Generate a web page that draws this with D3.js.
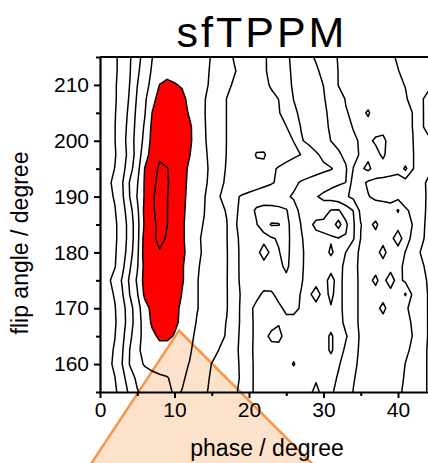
<!DOCTYPE html>
<html>
<head>
<meta charset="utf-8">
<script src="https://cdn.jsdelivr.net/npm/d3@7"></script>
<style>
  html, body { margin: 0; padding: 0; background: #fff; }
  svg { display: block; font-family: "Liberation Sans", Arial, sans-serif; }
</style>
</head>
<body>
<svg id="chart" width="428" height="463"></svg>
<script>
// grid columns (phase, degree) and rows (flip angle, degree, top row first)
const phases = [0,1,2,3,4,5,6,7,8,9,10,11,12,13,14,15,16,17,18,19,20,21,22,23,24,25,26,27,28,29,30,31,32,33,34,35,36,37,38,39,40,41,42,43,44,45,46];
const flips = [215,212.5,210,207.5,205,202.5,200,197.5,195,192.5,190,187.5,185,182.5,180,177.5,175,172.5,170,167.5,165,162.5,160,157.5,155];

// contour levels, region >= redLevel is filled
const levels = [1,2,3,4,5,6,7,8,9,10];
const redLevel = 9;

const xMajor = [0,10,20,30,40];
const xMinor = [5,15,25,35,45];
const yMajor = [160,170,180,190,200,210];
const yMinor = [155,165,175,185,195,205,215];

// callout triangle corners, in phase / flip units
const callout = [[10.6,166],[-2.6,139.3],[30.6,139.3]];

// signal, one row per flip angle
const grid = [
  [4.2,4.5,4.85,5.35,5.9,6.65,7.4,7.98,8.35,8.55,8.6,8.55,8.45,8.35,8.2,7.95,7.6,7.25,6.95,6.7,6.5,6.3,6.1,5.8,5.45,5.15,4.8,4.5,4.2,3.9,3.55,3.25,2.95,2.85,2.7,2.6,2.45,2.35,2.2,2.1,1.93,1.76,1.59,1.42,1.25,1.08,0.9],
  [4.15,4.5,4.85,5.35,5.94,6.82,7.5,8.1,8.45,8.7,8.75,8.7,8.55,8.4,8.2,7.89,7.61,7.33,7.06,6.81,6.57,6.33,6.1,5.81,5.48,5.16,4.88,4.63,4.38,4.13,3.78,3.35,2.98,2.86,2.74,2.62,2.5,2.38,2.26,2.14,2.02,1.85,1.66,1.47,1.28,1.09,0.9],
  [4.2,4.55,4.9,5.41,6.02,6.98,7.63,8.29,9.02,9.2,9.05,8.93,8.7,8.45,8.2,7.81,7.48,7.16,6.91,6.72,6.53,6.34,6.15,5.93,5.57,5.21,4.91,4.68,4.45,4.23,3.99,3.5,2.98,2.89,2.78,2.66,2.55,2.44,2.33,2.21,2.1,1.98,1.76,1.54,1.33,1.11,0.9],
  [4.2,4.55,4.9,5.44,6.11,7.13,7.8,8.78,9.25,9.45,9.45,9.2,8.8,8.5,8.05,7.71,7.36,6.99,6.86,6.71,6.57,6.43,6.29,6.14,5.99,5.47,4.98,4.75,4.52,4.3,4.07,3.7,3.26,2.96,2.84,2.73,2.62,2.51,2.4,2.29,2.18,2.07,1.78,1.22,0.67,0.6,0.6],
  [4.25,4.6,4.95,5.5,6.25,7.27,7.93,9.01,9.4,9.6,9.55,9.35,8.91,8.55,8.04,7.68,7.32,6.99,6.85,6.72,6.59,6.45,6.32,6.19,6.05,5.68,5.16,4.84,4.6,4.37,4.14,3.84,3.44,3.04,2.9,2.79,3.1,2.57,2.46,2.34,2.22,2.11,1.99,1.29,0.6,0.55,0.55],
  [4.3,4.65,4.98,5.56,6.38,7.36,8.11,9.2,9.5,9.7,9.65,9.5,9.15,8.6,8.06,7.7,7.33,6.99,6.87,6.75,6.63,6.51,6.39,6.27,6.14,6.02,5.5,4.95,4.69,4.44,4.18,3.9,3.57,3.23,2.96,2.84,2.72,2.6,2.48,2.36,2.24,2.12,1.99,1.29,0.6,0.55,0.55],
  [4.3,4.65,4.98,5.6,6.5,7.43,8.25,9.3,9.6,9.75,9.7,9.55,9.25,8.42,8.08,7.73,7.35,6.99,6.88,6.77,6.66,6.55,6.44,6.33,6.22,6.11,5.99,5.09,4.77,4.51,4.26,3.99,3.71,3.41,3.12,2.92,2.79,3.15,3.35,2.4,2.27,2.14,2.01,1.69,1.34,0.99,0.8],
  [4.25,4.6,4.93,5.53,6.38,7.45,8.57,9.4,9.85,9.85,9.8,9.6,9.05,8.55,8.15,7.75,7.33,6.98,6.88,6.78,6.69,5.9,5.9,6.39,6.29,6.2,6.1,5.99,5.57,5.13,4.78,4.47,4.16,3.74,3.21,2.92,2.8,2.67,3.2,2.41,2.28,2.15,2.03,1.71,1.36,0.99,0.8],
  [4.3,4.65,5.02,5.67,6.63,7.64,9.02,9.6,10.15,10.02,9.8,9.4,8.83,8.5,8.24,7.76,7.29,6.94,6.8,6.66,6.51,6.37,6.23,6.09,5.95,5.82,5.7,5.57,5.44,5.32,5.19,5.06,4.71,4.12,2.98,2.86,3.2,2.62,2.5,2.38,2.27,3.2,2.03,1.68,1.23,0.9,0.7],
  [4.4,4.8,5.21,5.93,7.08,7.92,9.1,9.7,10.3,10.05,9.8,9.45,8.7,8.45,8.2,7.68,7.16,6.9,6.77,6.63,6.49,6.36,6.22,6.08,5.86,5.52,5.17,4.92,4.77,4.62,4.46,4.31,4.15,3.99,2.58,2.28,1.85,1.75,1.7,1.65,1.6,1.55,1.5,1.25,0.89,0.75,0.6],
  [4.35,4.75,5.08,5.85,7.02,8.05,9.1,9.85,10.4,10.02,9.75,9.4,8.6,8.3,8.05,7.58,7.05,6.61,6.17,5.92,5.78,5.64,5.51,5.37,5.23,5.1,4.91,4.63,4.34,4.06,3.81,3.58,3.35,3.12,2.78,2.35,2.05,1.8,1.75,1.7,1.7,1.65,1.55,1.3,0.9,0.75,0.6],
  [4.3,4.65,4.95,5.62,6.63,7.78,9.25,9.85,10.35,10.02,9.75,9.35,8.48,8.3,8.01,7.68,7.32,6.92,6.15,5.85,5.75,6.1,6.3,6.35,6.3,6.1,5.3,4.8,4.7,4.55,4.5,5.05,5.1,4.5,3.98,2.76,2.65,2.55,2.45,2.35,3.1,2.1,1.85,1.45,0.81,0.7,0.6],
  [4.2,4.55,4.85,5.46,6.43,7.67,9.15,9.7,10.3,10.02,9.7,9.35,8.18,8.08,7.98,7.69,7.38,7.06,6.11,5.8,5.7,5.95,6.5,7.08,7.05,6.4,5.4,4.98,4.75,5.2,5.3,5.4,6.4,5.2,4.15,3.02,2.8,3.15,2.6,2.5,2.4,2.2,1.98,1.45,0.7,0.6,0.55],
  [4.2,4.55,4.85,5.46,6.43,7.67,9.4,9.75,10.3,9.9,9.65,9.35,8.18,8.1,7.9,7.6,7.32,7.05,6.2,5.85,5.75,5.7,5.65,5.9,6.1,6.4,5.5,5.05,4.8,4.7,4.8,4.9,4.95,4.9,4.1,2.98,2.85,2.75,2.65,2.55,3.8,2.25,1.85,1.35,0.65,0.6,0.55],
  [4.25,4.6,4.9,5.54,6.57,7.78,9.45,9.8,9.9,9.8,9.6,9.3,8.55,8.15,7.9,7.65,7.35,7.08,6.27,5.85,5.7,5.65,6.5,5.75,5.95,6.35,5.5,5.15,4.7,4.6,4.6,5.15,4.6,3.98,3.3,2.85,2.75,2.65,3.35,2.45,2.3,1.98,1.65,0.98,0.75,0.7,0.6],
  [4.35,4.7,4.95,5.75,6.88,7.9,9.3,9.7,9.8,9.75,9.55,9.1,8.6,8.1,7.8,7.6,7.35,7.08,6.27,5.85,5.7,5.65,5.6,5.55,5.7,6.25,5.45,5.15,4.65,4.55,4.5,4.5,4.4,3.7,3.2,2.85,2.75,2.65,2.55,2.4,2.2,1.85,1.6,1.3,0.7,0.65,0.6],
  [4.5,4.8,5.31,6.11,7.18,8.14,9.35,9.6,9.7,9.65,9.5,9.05,8.8,8.05,7.75,7.55,7.3,7.06,6.3,5.85,5.7,5.65,5.6,5.55,5.5,5.7,5.4,5.1,4.6,4.5,4.45,5.5,4.4,3.6,3.25,2.85,2.75,3.2,2.55,3.8,2.3,1.8,1.55,1.25,0.95,0.75,0.65],
  [4.4,4.7,5.08,5.92,7.02,7.91,9.2,9.5,9.6,9.55,9.4,8.98,8.6,8.05,7.75,7.55,7.3,7.06,6.42,5.9,5.75,5.3,4.8,4.85,5.3,5.45,5.3,4.95,4.7,5.6,4.5,5.3,4.4,3.6,3.25,2.85,2.75,2.65,2.55,2.4,2.3,3.1,1.8,1.3,0.99,0.8,0.7],
  [4.3,4.65,4.95,5.62,6.63,7.58,8.63,9.25,9.45,9.5,9.3,8.8,8.5,8.05,7.75,7.55,7.3,7.06,6.42,5.85,5.3,4.7,4.6,4.6,4.8,5.2,5.25,4.9,4.7,4.5,4.6,4.9,4.4,3.6,3.25,2.85,2.75,2.65,3.3,2.45,2.3,2.1,1.8,1.3,0.99,0.8,0.7],
  [4.25,4.6,4.9,5.58,6.56,7.55,8.42,9.15,9.35,9.4,9.15,8.85,8.4,7.95,7.7,7.5,7.25,6.97,6.4,5.85,5.3,4.75,4.7,4.75,4.95,4.75,4.7,4.65,4.6,4.55,4.55,4.6,4.45,3.7,3.25,2.85,2.75,2.65,2.55,2.45,2.35,2.25,1.9,1.35,0.99,0.8,0.7],
  [4.35,4.7,4.98,5.75,6.78,7.67,8.3,8.8,9.15,9.15,8.95,8.6,8.2,7.85,7.6,7.4,7.15,6.95,6.35,5.8,5.3,4.75,4.8,5.15,5.15,4.8,4.75,4.7,4.65,4.6,4.6,5.15,4.5,4.1,3.5,2.85,2.75,2.65,2.55,2.45,2.35,2.2,1.98,1.4,0.99,0.8,0.7],
  [4.4,4.75,5.08,5.92,7.02,7.85,8.25,8.55,8.7,8.7,8.55,8.35,8.1,7.75,7.5,7.25,6.98,6.7,6.3,5.75,5.25,4.75,4.7,4.75,4.8,4.75,4.75,4.7,4.65,4.6,4.6,5.15,4.5,3.8,3.3,2.85,2.75,2.65,2.55,2.45,2.35,2.15,1.85,1.35,0.95,0.8,0.7],
  [4.45,4.75,5.17,6.02,7.06,7.65,8.1,8.3,8.4,8.4,8.3,8.15,7.98,7.6,7.3,6.98,6.75,6.55,6.45,5.75,5.25,4.8,4.75,4.7,4.7,4.75,5.05,4.7,4.65,4.6,4.55,4.55,4.1,3.6,3.15,2.85,2.75,2.65,2.55,2.45,2.35,1.98,1.65,1.3,0.95,0.8,0.7],
  [4.35,4.7,4.98,5.69,6.55,7.2,7.5,7.7,7.85,7.95,8.2,8.1,7.85,7.55,7.2,6.9,6.75,6.6,6.45,5.8,5.25,4.8,4.75,4.7,4.7,4.65,4.65,4.6,4.6,4.8,4.5,4.3,3.9,3.45,3.05,2.8,2.7,2.6,2.5,2.35,2.15,1.95,1.6,1.3,0.95,0.8,0.7],
  [4.2,4.5,4.85,5.46,6.21,6.93,7.3,7.5,7.65,7.8,8.1,7.98,7.7,7.45,7.15,6.8,6.65,6.5,6.2,5.75,5.25,4.8,4.75,4.7,4.7,4.65,4.65,4.6,4.6,5.4,4.5,4.1,3.8,3.4,2.98,2.8,2.7,2.6,2.5,2.35,2.1,1.9,1.6,1.3,0.95,0.8,0.7]
];

const svg = d3.select("#chart");

const plotLeft = 100, plotTop = 57, plotBottom = 392;
const x = d3.scaleLinear().domain([0, 50]).range([plotLeft, 472.5]);
const y = d3.scaleLinear().domain([155, 215]).range([plotBottom, plotTop]);

// callout sits under the plot
svg.append("polygon")
  .attr("points", callout.map(d => [x(d[0]), y(d[1])].join(",")).join(" "))
  .attr("fill", "#fde2cb")
  .attr("stroke", "#f79646")
  .attr("stroke-width", 2.5)
  .attr("stroke-linejoin", "miter");

svg.append("clipPath").attr("id", "plot-clip")
  .append("rect")
  .attr("x", plotLeft).attr("y", plotTop)
  .attr("width", x(50) - plotLeft).attr("height", plotBottom - plotTop);

// contour the grid; grid coords (cell centres at i + 0.5) -> data -> pixels
let nx = phases.length, ny = flips.length;
let contours = d3.contours().size([nx, ny]).thresholds(levels)(grid.flat());
let gx = d3.scaleLinear().domain([0.5, nx - 0.5]).range([phases[0], phases[nx - 1]]);
let gy = d3.scaleLinear().domain([0.5, ny - 0.5]).range([flips[0], flips[ny - 1]]);
let path = d3.geoPath(d3.geoTransform({
  point: function(px, py) { this.stream.point(x(gx(px)), y(gy(py))); }
}));

svg.append("g")
  .attr("clip-path", "url(#plot-clip)")
  .selectAll("path")
  .data(contours)
  .join("path")
  .attr("d", path)
  .attr("fill", d => d.value >= redLevel ? "#ff0000" : "none")
  .attr("stroke", "#000")
  .attr("stroke-width", 1.5)
  .attr("stroke-linejoin", "round");

// axes
svg.append("g").attr("transform", `translate(0,${plotBottom})`)
  .call(d3.axisBottom(x).tickValues(xMajor).tickSize(6).tickSizeOuter(0).tickPadding(4));
let xAxisMinor = svg.append("g").attr("transform", `translate(0,${plotBottom})`)
  .call(d3.axisBottom(x).tickValues(xMinor).tickSize(4).tickFormat(""));
xAxisMinor.select(".domain").remove();

svg.append("g").attr("transform", `translate(${plotLeft},0)`)
  .call(d3.axisLeft(y).tickValues(yMajor).tickSize(6).tickSizeOuter(0).tickPadding(5));
let yAxisMinor = svg.append("g").attr("transform", `translate(${plotLeft},0)`)
  .call(d3.axisLeft(y).tickValues(yMinor).tickSize(4).tickFormat(""));
yAxisMinor.select(".domain").remove();

svg.selectAll(".domain").attr("stroke", "#000").attr("stroke-width", 2.2);
svg.selectAll(".tick line").attr("stroke", "#000").attr("stroke-width", 2);
svg.selectAll(".tick text")
  .attr("fill", "#000")
  .style("font-family", '"Liberation Sans", Arial, sans-serif')
  .style("font-size", "21px");

// top frame
svg.append("line")
  .attr("x1", plotLeft).attr("x2", x(50))
  .attr("y1", plotTop).attr("y2", plotTop)
  .attr("stroke", "#000").attr("stroke-width", 2.2);

svg.append("text")
  .attr("x", 262).attr("y", 47)
  .attr("text-anchor", "middle")
  .style("font-size", "43px")
  .style("letter-spacing", "3px")
  .text("sfTPPM");

svg.append("text")
  .attr("transform", "translate(28,243) rotate(-90)")
  .attr("text-anchor", "middle")
  .style("font-size", "23px")
  .text("flip angle / degree");

svg.append("text")
  .attr("x", 267).attr("y", 456)
  .attr("text-anchor", "middle")
  .style("font-size", "23px")
  .text("phase / degree");
</script>
</body>
</html>
